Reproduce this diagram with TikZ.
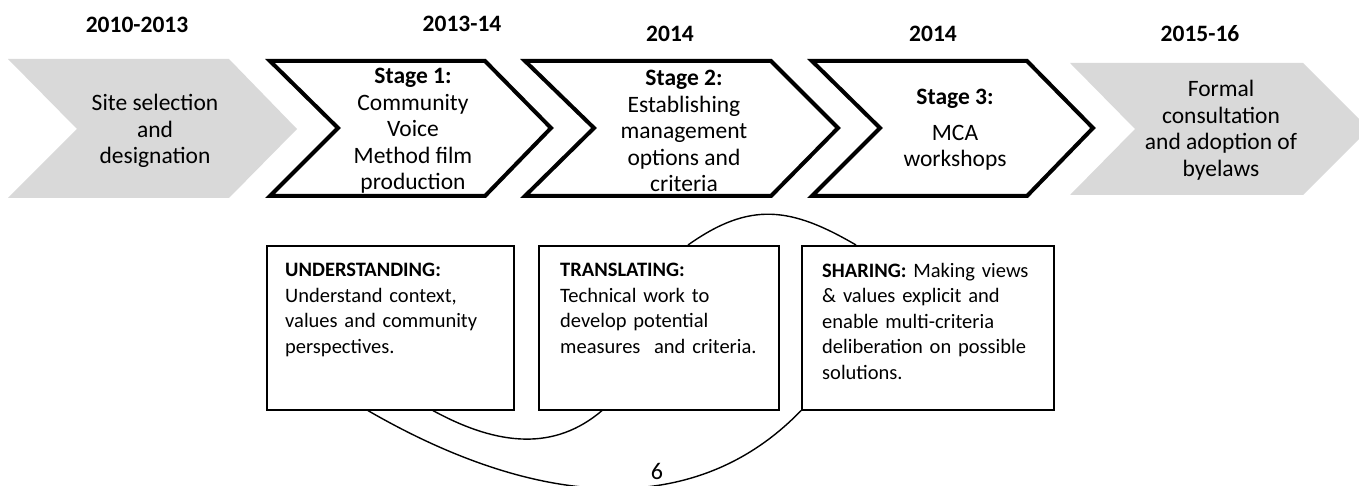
\documentclass[tikz,border=0pt]{standalone}
\usepackage{fontspec}
\setmainfont{Carlito}
\usetikzlibrary{calc}
\definecolor{chevgray}{HTML}{D9D9D9}
\tikzset{
  graychev/.style={fill=chevgray, draw=none},
  blackchev/.style={draw=black, fill=white, line width=4pt, line join=miter},
  chevtext/.style={align=center, inner sep=0pt, font=\fontsize{23.5}{26.5}\selectfont},
  yeartext/.style={inner sep=0pt, font=\fontsize{23.5}{26.5}\selectfont\bfseries},
  infobox/.style={draw=black, line width=1.6pt, rectangle, inner sep=0pt},
  boxtext/.style={anchor=north west, align=left, inner sep=0pt, text width=#1,
                  font=\fontsize{20.5}{25.5}\selectfont},
  link/.style={draw=black, line width=1.4pt},
}
\begin{document}
\begin{tikzpicture}[x=1pt, y=-1pt]
\useasboundingbox (0,0) rectangle (1359,486);
\begin{scope}
\clip (0,0) rectangle (1359,486);
% chevrons
\path[graychev] (8,59) -- (229,59) -- (297,129) -- (229,198) -- (8,198) -- (77,129) -- cycle;
\path[blackchev] (270,61) -- (485,61) -- (551,128) -- (485,196) -- (270,196) -- (338,128) -- cycle;
\path[blackchev] (525,61) -- (771,61) -- (838,128) -- (771,196) -- (525,196) -- (594,128) -- cycle;
\path[blackchev] (812,61) -- (1027,61) -- (1093,128) -- (1027,196) -- (812,196) -- (880,128) -- cycle;
\path[graychev] (1070,63) -- (1303,63) -- (1369,129) -- (1303,195) -- (1070,195) -- (1135,129) -- cycle;

% chevron texts
\node[chevtext] (c1) at (155,131) {Site selection\\and\\designation};
\node[chevtext] (c2) at (413,131) {\textbf{Stage 1:}\\Community\\Voice\\Method film\\production};
\node[chevtext] (c3) at (684,131) {\textbf{Stage 2:}\\Establishing\\management\\options and\\criteria};
\node[chevtext] (c4) at (955,130) {\textbf{Stage 3:}\\[9pt]MCA\\workshops};
\node[chevtext] (c5) at (1221,130) {Formal\\consultation\\and adoption of\\byelaws};

% years
\node[yeartext] (y1) at (137,25) {2010-2013};
\node[yeartext] (y2) at (462,24) {2013-14};
\node[yeartext] (y3) at (670,34) {2014};
\node[yeartext] (y4) at (933,34) {2014};
\node[yeartext] (y5) at (1200,34) {2015-16};

% boxes
\node[infobox, minimum width=247pt, minimum height=164pt, anchor=north west] (b1) at (266,245) {};
\node[infobox, minimum width=240pt, minimum height=164pt, anchor=north west] (b2) at (538,245) {};
\node[infobox, minimum width=252pt, minimum height=164pt, anchor=north west] (b3) at (801,245) {};

\node[boxtext=215pt] (t1) at ([xshift=19pt,yshift=-18pt]b1.north west)
  {\textbf{UNDERSTANDING:}\\Understand context,\\values and community\\perspectives.};
\node[boxtext=215pt] (t2) at ([xshift=22pt,yshift=-18pt]b2.north west)
  {\textbf{TRANSLATING:}\\Technical work to\\develop potential\\measures~ and criteria.};
\node[boxtext=222pt] (t3) at ([xshift=21pt,yshift=-18pt]b3.north west)
  {\textbf{SHARING:} Making views\\\& values explicit and\\enable multi-criteria\\deliberation on possible\\solutions.};

% connectors
\coordinate (a1) at ([xshift=167pt]b1.south west);
\coordinate (a2) at ([xshift=64pt]b2.south west);
\coordinate (bb1) at ([xshift=102pt]b1.south west);
\coordinate (bb2) at (b3.south west);
\coordinate (cc1) at ([xshift=150pt]b2.north west);
\coordinate (cc2) at ([xshift=55pt]b3.north west);
\draw[link] (a1) .. controls +(66,36) and +(-47,40) .. (a2);
\draw[link] (bb1) .. controls +(173,100) and +(-104,108) .. (bb2);
\draw[link] (cc1) .. controls +(62,-44) and +(-65,-38) .. (cc2);

% page number
\node[inner sep=1pt, fill=white, font=\fontsize{24}{26}\selectfont] (pn) at (657,471) {6};
\end{scope}
\end{tikzpicture}
\end{document}
